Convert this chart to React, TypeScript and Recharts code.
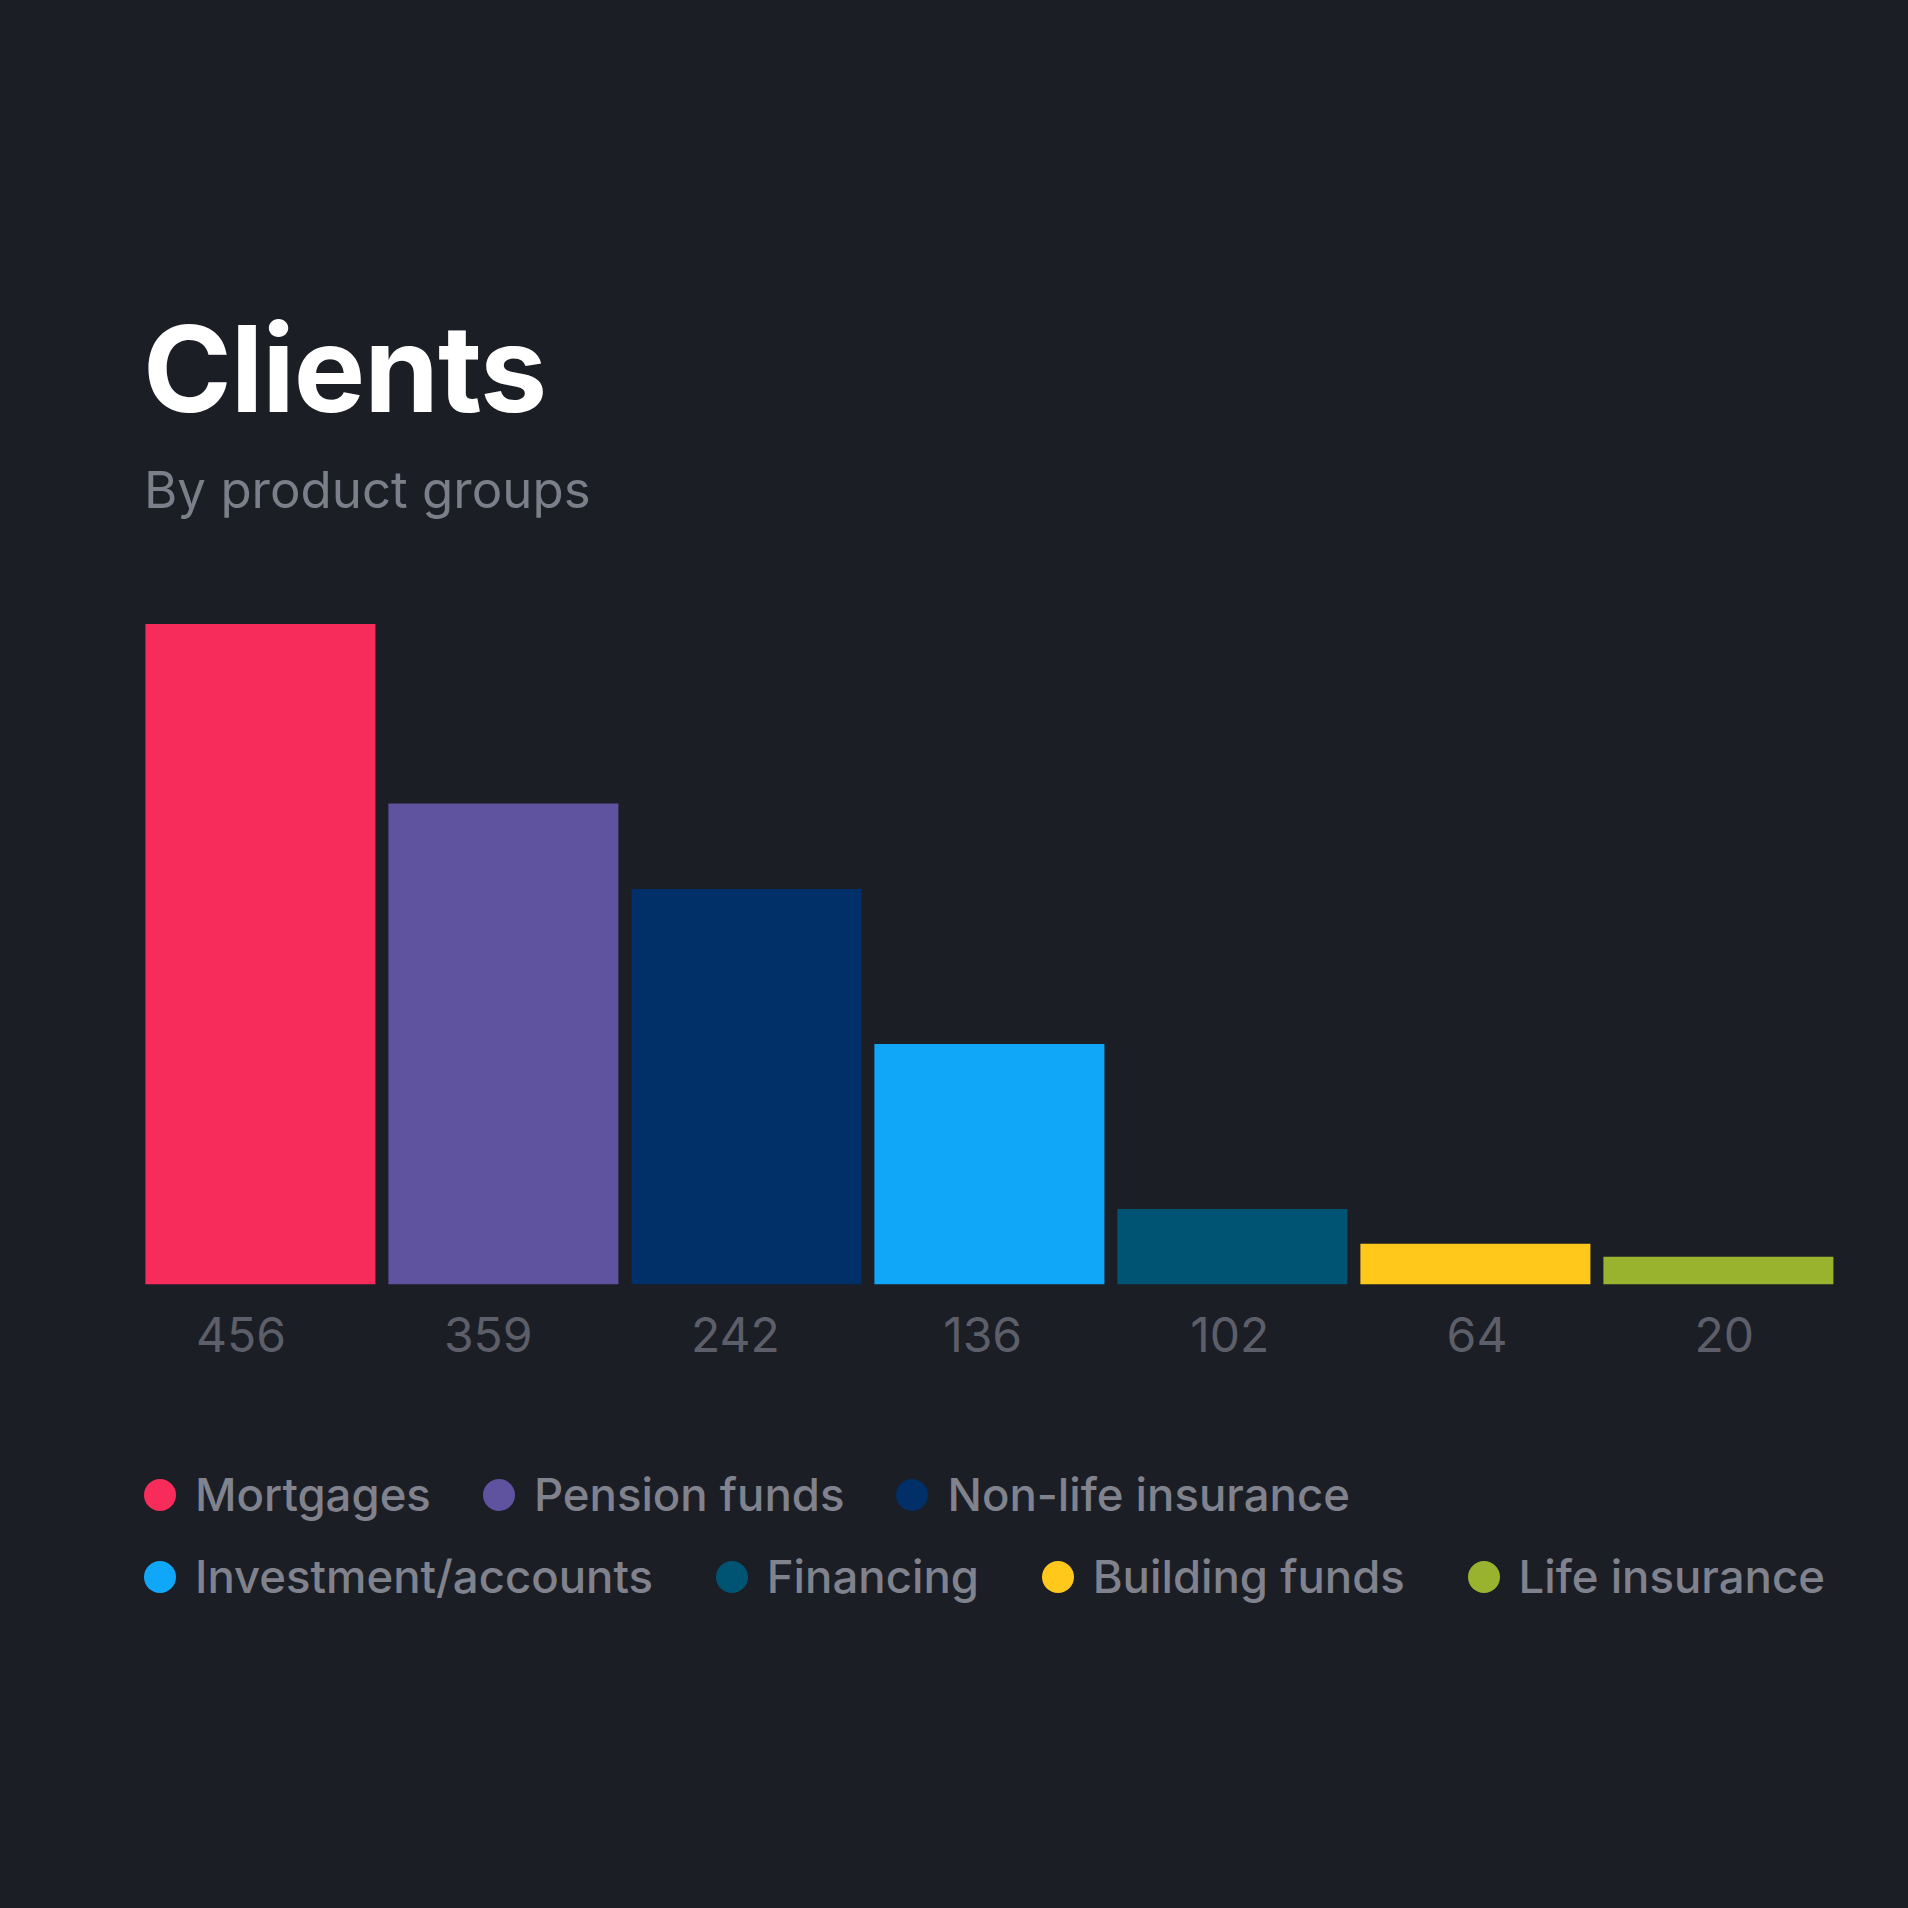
import { BarChart, Bar, XAxis, YAxis, Cell } from "recharts";

const categories = [
  "Mortgages",
  "Pension funds",
  "Non-life insurance",
  "Investment/accounts",
  "Financing",
  "Building funds",
  "Life insurance",
];
const tickLabels = ["456", "359", "242", "136", "102", "64", "20"];
const barValues = [456, 332, 273, 166, 52, 28, 19];
const colors = ["#f72c5b", "#5f53a0", "#003067", "#11a7f8", "#005473", "#ffc81a", "#9ab32e"];

const legendRows = [[0, 1, 2], [3, 4, 5, 6]];

const BG = "#1c1e26";
const FONT = "Inter, 'Noto Sans', sans-serif";

const chartData = categories.map((name, i) => ({
  name,
  label: tickLabels[i],
  value: barValues[i],
}));

const LegendItem = ({ i }: { i: number }) => (
  <div style={{ display: "flex", alignItems: "center", gap: 19 }}>
    <span style={{ width: 32, height: 32, borderRadius: "50%", background: colors[i], display: "inline-block" }} />
    <span>{categories[i]}</span>
  </div>
);

export default function App() {
  return (
    <div style={{ position: "relative", width: 1908, height: 1908, background: BG, fontFamily: FONT, overflow: "hidden" }}>
      <style>{`body{margin:0;background:${BG}}`}</style>

      <div style={{ position: "absolute", left: 143, top: 309, fontSize: 120, lineHeight: 1, fontWeight: 700, color: "#ffffff", letterSpacing: -1 }}>
        Clients
      </div>
      <div style={{ position: "absolute", left: 144, top: 464, fontSize: 51, lineHeight: 1, fontWeight: 400, color: "#7b7f89" }}>
        By product groups
      </div>

      <div style={{ position: "absolute", left: 0, top: 600 }}>
        <BarChart
          width={1908}
          height={800}
          data={chartData}
          margin={{ top: 24, right: 60.2, bottom: 55.7, left: 117.4 }}
        >
          <XAxis xAxisId="bars" dataKey="name" hide height={0} padding={{ left: 22, right: 7.4 }} />
          <XAxis
            xAxisId="labels"
            dataKey="label"
            height={60}
            axisLine={false}
            tickLine={false}
            tickSize={0}
            tickMargin={34}
            interval={0}
            tick={{ fontSize: 48, fill: "#5c5f69", fontFamily: FONT }}
          />
          <YAxis hide domain={[0, 456]} />
          <Bar dataKey="value" xAxisId="bars" barSize={230} isAnimationActive={false}>
            {chartData.map((d, i) => (
              <Cell key={d.name} fill={colors[i]} />
            ))}
          </Bar>
        </BarChart>
      </div>

      <div style={{ position: "absolute", left: 144, top: 1467, fontSize: 45.5, fontWeight: 500, color: "#80838d", lineHeight: "56px" }}>
        <div style={{ display: "flex", gap: 52, height: 56 }}>
          {legendRows[0].map((i) => <LegendItem key={i} i={i} />)}
        </div>
        <div style={{ display: "flex", justifyContent: "space-between", width: 1681, height: 56, marginTop: 26 }}>
          {legendRows[1].map((i) => <LegendItem key={i} i={i} />)}
        </div>
      </div>
    </div>
  );
}
